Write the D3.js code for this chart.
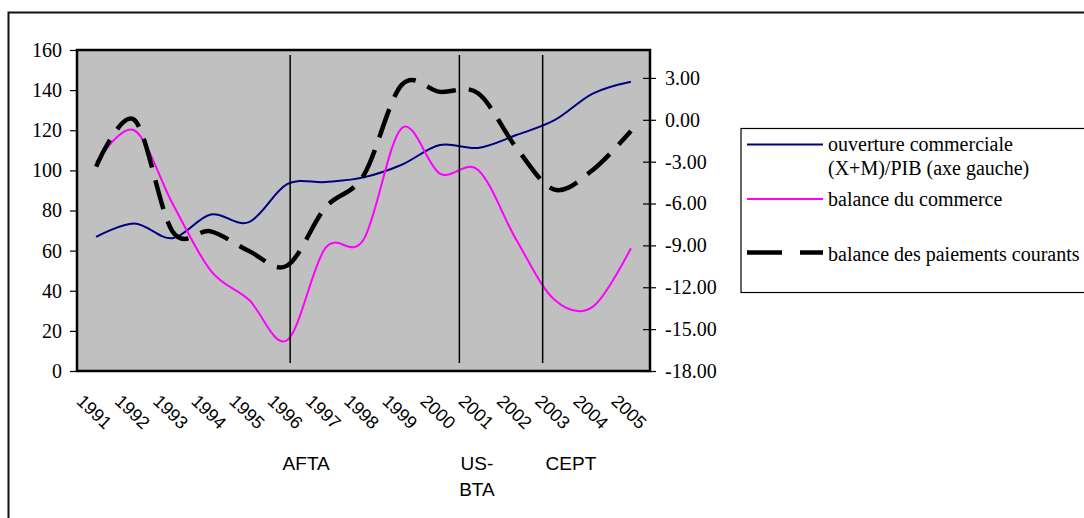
<!DOCTYPE html>
<html>
<head>
<meta charset="utf-8">
<script src="https://cdn.jsdelivr.net/npm/d3@7"></script>
<style>
  html, body { margin: 0; padding: 0; background: #fff; }
  svg { display: block; }
</style>
</head>
<body>
<svg id="chart" width="1084" height="518"></svg>
<script>
// ---- data ----
const years = [1991,1992,1993,1994,1995,1996,1997,1998,1999,2000,2001,2002,2003,2004,2005];
const ouverture = [66.8,73.5,66.2,78.0,74.2,93.1,94.2,96.5,102.8,112.6,111.2,117.6,125.0,138.3,144.2];
const balanceCommerce = [-3.05,-0.75,-6.0,-10.8,-12.9,-15.8,-9.2,-8.6,-0.6,-3.85,-3.6,-8.6,-12.9,-13.4,-9.2];
const balancePaiements = [-3.35,0.0,-8.0,-8.0,-9.4,-10.45,-6.3,-4.0,2.5,2.0,1.9,-2.0,-5.0,-3.6,-0.8];
const leftTicks = [0,20,40,60,80,100,120,140,160];
const rightTicks = [-18,-15,-12,-9,-6,-3,0,3];
const eventYears = [1996.08, 2000.51, 2002.69];       // vertical markers
const eventSpan = [4, 157.5];                          // in left-axis units
const eventLabels = [["AFTA"], ["US-","BTA"], ["CEPT"]];
const eventLabelYears = [1996.5, 2000.97, 2003.43];
const legendItems = [
  {lines:["ouverture commerciale","(X+M)/PIB (axe gauche)"], color:"#000080", width:2, dash:null},
  {lines:["balance du commerce"], color:"#FF00FF", width:2, dash:null},
  {lines:["balance des paiements courants"], color:"#000000", width:4.5, dash:"35,18"}
];

// ---- layout ----
const svg = d3.select("#chart");
const plot = {left:77, right:650, top:50, bottom:371};
const serif = "'Liberation Serif','Times New Roman',Times,serif";
const sans = "'Liberation Sans',Arial,Helvetica,sans-serif";

const x = d3.scaleLinear().domain([1990.5, 2005.5]).range([plot.left, plot.right]);
const yL = d3.scaleLinear().domain([0,160]).range([plot.bottom, plot.top]);
const yR = d3.scaleLinear().domain([-18,5]).range([plot.bottom, plot.top]);

// outer frame
svg.append("rect").attr("x",8.5).attr("y",12.5).attr("width",1200).attr("height",700)
  .attr("fill","none").attr("stroke","#111").attr("stroke-width",2);

// plot background
svg.append("rect").attr("x",plot.left).attr("y",plot.top)
  .attr("width",plot.right-plot.left).attr("height",plot.bottom-plot.top)
  .attr("fill","#C0C0C0");

// series
const curve = d3.curveCardinal.tension(0);
const lineL = d3.line().x((d,i)=>x(years[i])).y(d=>yL(d)).curve(curve);
const lineR = d3.line().x((d,i)=>x(years[i])).y(d=>yR(d)).curve(curve);

svg.append("path").attr("d", lineL(ouverture)).attr("fill","none")
  .attr("stroke","#000080").attr("stroke-width",2);
svg.append("path").attr("d", lineR(balanceCommerce)).attr("fill","none")
  .attr("stroke","#FF00FF").attr("stroke-width",2);
svg.append("path").attr("d", lineR(balancePaiements)).attr("fill","none")
  .attr("stroke","#000").attr("stroke-width",4.5).attr("stroke-dasharray","30,13");

// event vertical lines
svg.selectAll("line.event").data(eventYears).enter().append("line")
  .attr("class","event")
  .attr("x1",d=>x(d)).attr("x2",d=>x(d))
  .attr("y1",yL(eventSpan[1])).attr("y2",yL(eventSpan[0]))
  .attr("stroke","#000").attr("stroke-width",1.5);

// plot border
svg.append("rect").attr("x",plot.left).attr("y",plot.top)
  .attr("width",plot.right-plot.left).attr("height",plot.bottom-plot.top)
  .attr("fill","none").attr("stroke","#000").attr("stroke-width",2.5);

// left axis
const axL = d3.axisLeft(yL).tickValues(leftTicks).tickSize(7).tickPadding(8).tickFormat(d3.format("d"));
const gL = svg.append("g").attr("transform",`translate(${plot.left},0)`).call(axL);
gL.select(".domain").remove();
gL.selectAll(".tick line").attr("stroke","#000").attr("stroke-width",1.2);
gL.selectAll(".tick text").attr("font-family",serif).attr("font-size",20).attr("fill","#000");

// right axis (ticks crossing)
const axR = d3.axisRight(yR).tickValues(rightTicks).tickSize(6).tickPadding(9).tickFormat(d=>d.toFixed(2));
const gR = svg.append("g").attr("transform",`translate(${plot.right},0)`).call(axR);
gR.select(".domain").remove();
gR.selectAll(".tick line").attr("x1",-7).attr("stroke","#000").attr("stroke-width",1.2);
gR.selectAll(".tick text").attr("font-family",serif).attr("font-size",20).attr("fill","#000");

// x labels (rotated)
svg.selectAll("text.year").data(years).enter().append("text")
  .attr("class","year")
  .attr("transform",d=>`translate(${x(d)-2},412) rotate(44)`)
  .attr("text-anchor","middle").attr("dominant-baseline","central")
  .attr("font-family",sans).attr("font-size",18).attr("fill","#000")
  .text(d=>d);

// event labels
eventLabels.forEach((lines,i)=>{
  const t = svg.append("text").attr("text-anchor","middle")
    .attr("font-family",sans).attr("font-size",19).attr("fill","#000");
  lines.forEach((s,j)=>{
    t.append("tspan").attr("x",x(eventLabelYears[i])).attr("y",469.5+j*26).text(s);
  });
});

// legend
const lg = svg.append("g");
lg.append("rect").attr("x",741).attr("y",128.5).attr("width",400).attr("height",164)
  .attr("fill","#fff").attr("stroke","#000").attr("stroke-width",1.2);
const legendY = [144.5, 199, 252.5];
const legendTextY = [[151,175],[205.5],[261]];
legendItems.forEach((it,i)=>{
  lg.append("line").attr("x1",747).attr("x2",823).attr("y1",legendY[i]).attr("y2",legendY[i])
    .attr("stroke",it.color).attr("stroke-width",it.width)
    .attr("stroke-dasharray",it.dash);
  it.lines.forEach((s,j)=>{
    lg.append("text").attr("x",828).attr("y",legendTextY[i][j])
      .attr("font-family",serif).attr("font-size",20).attr("fill","#000").text(s);
  });
});
</script>
</body>
</html>
